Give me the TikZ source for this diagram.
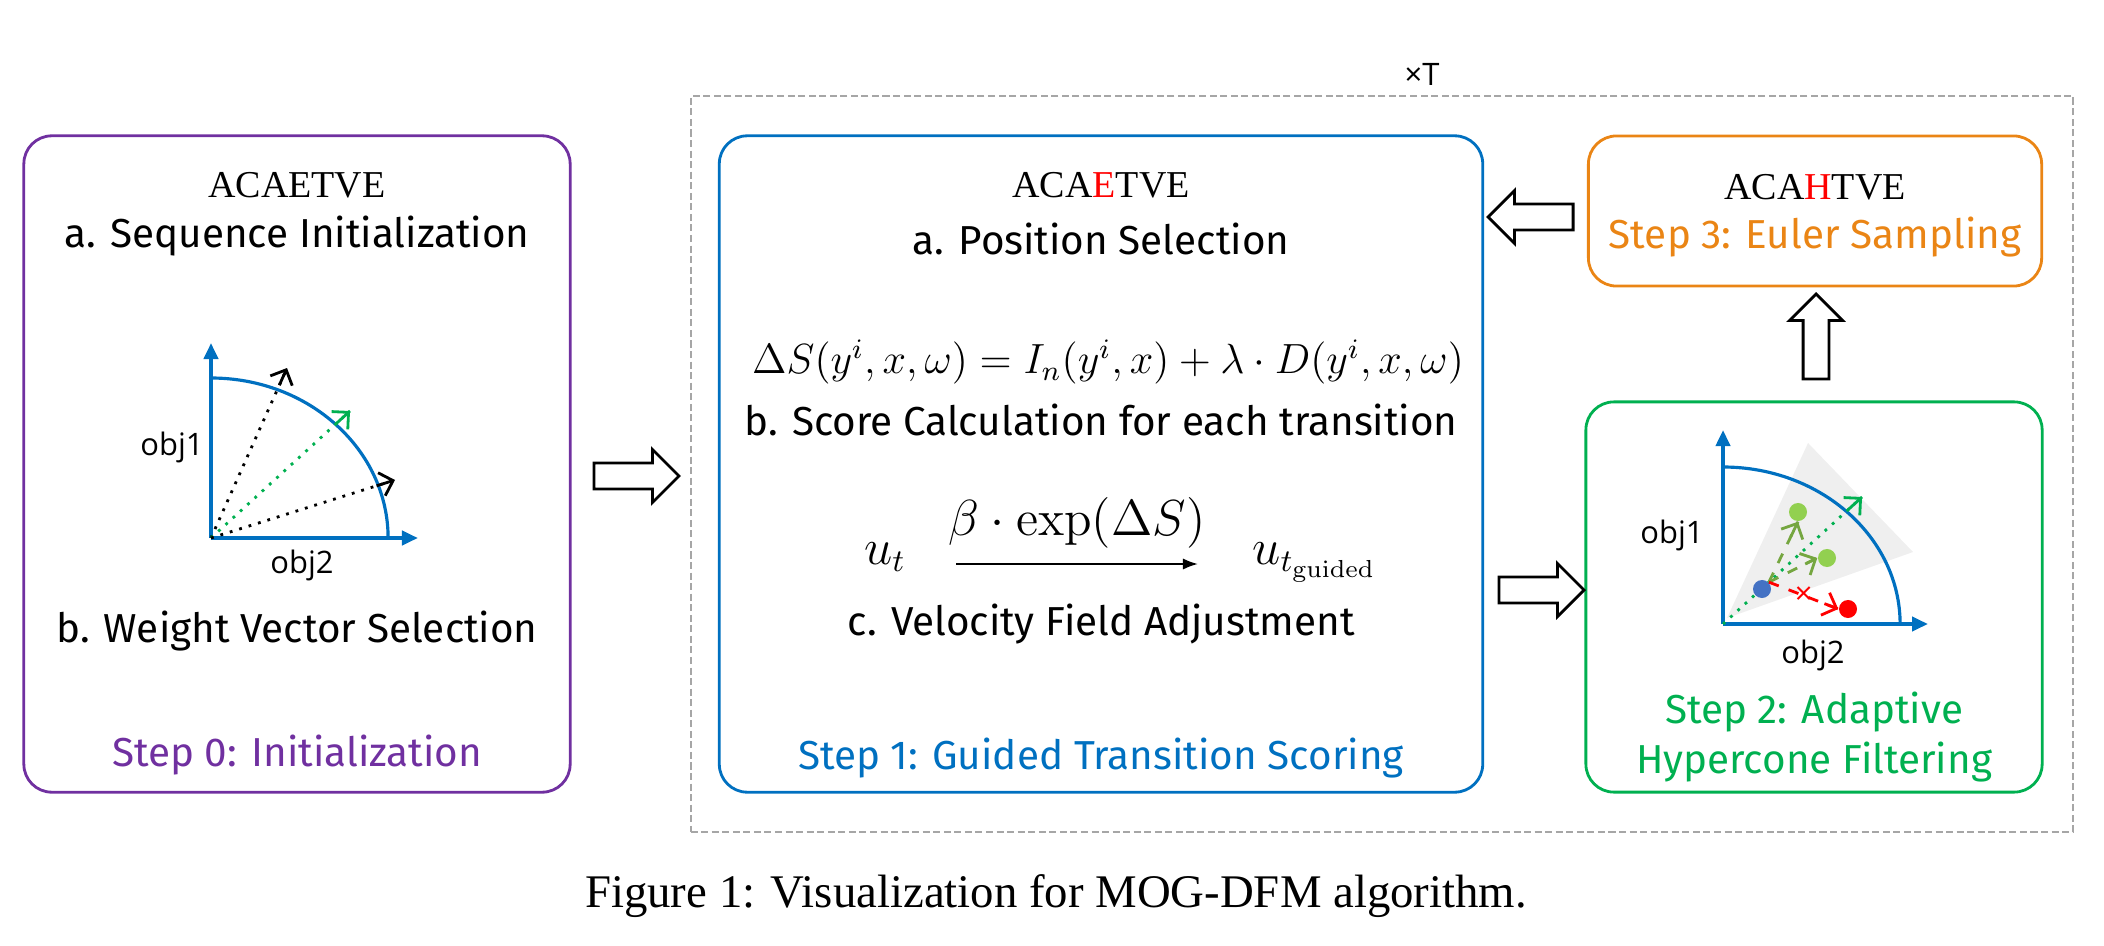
\documentclass[tikz,border=0pt]{standalone}
\usepackage[no-math]{fontspec}
\setmainfont{Fira Sans}
\newfontfamily\seqfont{Liberation Serif}
\newfontfamily\objfont{Open Sans}
\newfontfamily\capfont{Liberation Serif}
\usetikzlibrary{shapes.arrows,arrows.meta,positioning,calc}
\definecolor{purp}{HTML}{7030A0}
\definecolor{stblue}{HTML}{0070C0}
\definecolor{stgreen}{HTML}{00B050}
\definecolor{storange}{HTML}{EA8515}
\definecolor{dotgreen}{HTML}{92D050}
\definecolor{dotblue}{HTML}{4472C4}
\definecolor{conegray}{HTML}{EFEFEF}

\begin{document}
\begin{tikzpicture}[x=0.01cm,y=-0.01cm,
  stepbox/.style={draw,rounded corners=0.28cm,line width=0.8pt},
  loopbox/.style={draw=gray!70,line width=0.6pt,dash pattern=on 2pt off 1pt},
  blockarrow/.style={single arrow,draw,line width=0.8pt,minimum height=0.85cm,inner xsep=0pt,inner ysep=0.115cm,single arrow head extend=0.135cm},
  txt/.style={font=\fontsize{11.5}{14}\selectfont},
  seq/.style={font=\seqfont\fontsize{10.8}{12}\selectfont},
  mathtxt/.style={font=\fontsize{12}{14}\selectfont},
  bigmath/.style={font=\fontsize{13.5}{15}\selectfont},
  obj/.style={font=\objfont\fontsize{8.8}{10}\selectfont},
  axis/.style={draw=stblue,line width=1.1pt,-{Triangle[length=0.16cm,width=0.14cm]}},
  front/.style={draw=stblue,line width=0.9pt},
  vec/.style={dotted,line width=0.8pt},
  barb/.style={line width=0.8pt,-{Straight Barb[length=0.12cm,width=0.24cm]}},
  move/.style={dashed,line width=0.8pt},
  dot/.style={circle,inner sep=0pt,minimum size=0.18cm}]
\useasboundingbox (0,0) rectangle (2104,946);

% boxes
\node[loopbox,minimum width=13.82cm,minimum height=7.35cm] (loop) at (1382,464) {};
\node[obj] (times) at (1422,74) {×T};
\node[stepbox,draw=purp,minimum width=5.46cm,minimum height=6.56cm] (s0) at (297,464) {};
\node[stepbox,draw=stblue,minimum width=7.63cm,minimum height=6.56cm] (s1) at (1101,464) {};
\node[stepbox,draw=stgreen,minimum width=4.56cm,minimum height=3.90cm] (s2) at (1814,597) {};
\node[stepbox,draw=storange,minimum width=4.53cm,minimum height=1.50cm] (s3) at (1815,211) {};

% step 0
\node[seq] (seq0) at (297,185) {ACAETVE};
\node[txt] (init) at (297,236) {a. Sequence Initialization};
\node[txt] (wsel) at (297,631) {b. Weight Vector Selection};
\node[txt,text=purp] (step0) at (297,755) {Step 0: Initialization};

\coordinate (o1) at (211,538);
\coordinate (y1) at (211,343);
\coordinate (x1) at (418,538);
\coordinate (w1) at (287,368);
\coordinate (w2) at (350,411);
\coordinate (w3) at (395,480);
\draw[front] (211,378) arc[start angle=90,end angle=0,x radius=1.77cm,y radius=1.6cm];
\draw[axis] (o1) -- (y1);
\draw[axis] (o1) -- (x1);
\draw[vec] (o1) -- (w1);
\draw[vec,draw=stgreen] (o1) -- (w2);
\draw[vec] (o1) -- (w3);
\draw[barb] ($(o1)!0.9!(w1)$) -- (w1);
\draw[barb,draw=stgreen] ($(o1)!0.9!(w2)$) -- (w2);
\draw[barb] ($(o1)!0.9!(w3)$) -- (w3);
\node[obj] (obj1a) at (172,447) {obj1};
\node[obj] (obj2a) at (302,565) {obj2};

% step 1
\node[seq] (seq1) at (1101,185) {ACA\textcolor{red}{E}TVE};
\node[txt] (pos) at (1101,239) {a. Position Selection};
\node[mathtxt] (score) at (1108,362) {$\Delta S\big(y^i,x,\omega\big)=I_n\big(y^i,x\big)+\lambda\cdot D(y^i,x,\omega)$};
\node[txt] (calc) at (1101,420) {b. Score Calculation for each transition};
\node[bigmath,anchor=base] (ut) at (885,564) {$u_t$};
\node[bigmath,anchor=base west] (utg) at (1240,564) {$u_{t_{\mathrm{guided}}}$};
\draw[-{Latex[length=0.15cm]},line width=0.6pt] ([xshift=0.38cm]ut.base east) -- node[above=1pt,bigmath]{$\beta\cdot\exp(\Delta S)$} ([xshift=-0.42cm]utg.base west);
\node[txt] (vel) at (1101,624) {c. Velocity Field Adjustment};
\node[txt,text=stblue] (step1) at (1101,758) {Step 1: Guided Transition Scoring};

% step 2
\coordinate (o2) at (1723,624);
\coordinate (y2) at (1723,430);
\coordinate (x2) at (1928,624);
\coordinate (w4) at (1862,497);
\fill[conegray] (1727,618) -- (1808,443) -- (1913,552) -- cycle;
\draw[front] (1723,467) arc[start angle=90,end angle=0,x radius=1.77cm,y radius=1.57cm];
\draw[axis] (o2) -- (y2);
\draw[axis] (o2) -- (x2);
\draw[vec,draw=stgreen] (o2) -- (w4);
\draw[barb,draw=stgreen] ($(o2)!0.9!(w4)$) -- (w4);
\node[dot,fill=dotblue] (p0) at (1762,589) {};
\node[dot,fill=dotgreen] (g1) at (1798,512) {};
\node[dot,fill=dotgreen] (g2) at (1827,558) {};
\node[dot,fill=red] (r1) at (1848,609) {};
\draw[move,draw=dotgreen!80!black] (p0.north east) -- (g1.south);
\draw[move,draw=dotgreen!80!black] (p0.north east) -- (g2.west);
\draw[move,draw=red] (p0.north east) -- node[pos=0.5,text=red,obj,inner sep=0pt]{×} (r1.west);
\draw[barb,draw=dotgreen!80!black] ($(p0.north east)!0.75!(g1.south)$) -- (g1.south);
\draw[barb,draw=dotgreen!80!black] ($(p0.north east)!0.75!(g2.west)$) -- (g2.west);
\draw[barb,draw=red] ($(p0.north east)!0.8!(r1.west)$) -- (r1.west);
\node[obj] (obj1b) at (1672,535) {obj1};
\node[obj] (obj2b) at (1813,655) {obj2};
\node[txt,text=stgreen,align=center] (step2) at (1814,737) {Step 2: Adaptive\\Hypercone Filtering};

% step 3
\node[seq] (seq3) at (1815,187) {ACA\textcolor{red}{H}TVE};
\node[txt,text=storange] (step3) at (1815,237) {Step 3: Euler Sampling};

% block arrows
\node[blockarrow] (a01) at (630,476) {};
\node[blockarrow] (a12) at (1535,590) {};
\node[blockarrow,rotate=90] (a23) at (1816,343) {};
\node[blockarrow,rotate=180] (a31) at (1537,217) {};

\node[font=\capfont\fontsize{13.3}{15}\selectfont] (cap) at (1056,896) {Figure 1: Visualization for MOG-DFM algorithm.};
\end{tikzpicture}
\end{document}
